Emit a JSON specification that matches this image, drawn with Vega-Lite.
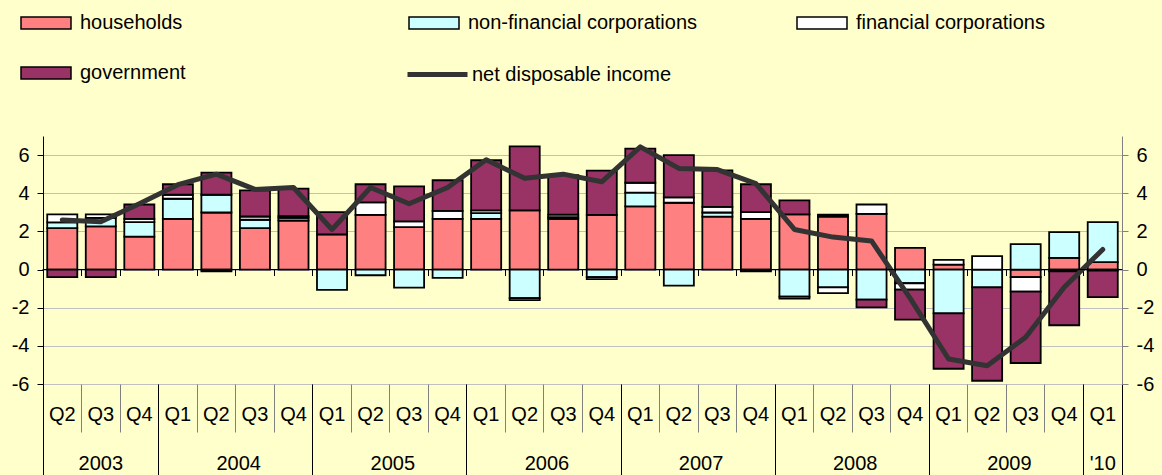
{
  "$schema": "https://vega.github.io/schema/vega-lite/v6.json",
  "autosize": "none",
  "padding": {"left": 43, "top": 136, "right": 40, "bottom": 91},
  "width": 1079,
  "height": 248,
  "background": "#FFFFCC",
  "config": {
    "view": {"stroke": null},
    "font": "Liberation Sans",
    "axis": {"labelFont": "Liberation Sans", "labelColor": "#000000", "labelFontSize": 20}
  },
  "datasets": {
    "bars": [
      {"q":"2003 Q2","s":"households","v":2.17,"o":1},{"q":"2003 Q2","s":"non-financial corporations","v":0.30,"o":2},{"q":"2003 Q2","s":"financial corporations","v":0.42,"o":3},{"q":"2003 Q2","s":"government","v":-0.40,"o":4},
      {"q":"2003 Q3","s":"households","v":2.26,"o":1},{"q":"2003 Q3","s":"non-financial corporations","v":0.45,"o":2},{"q":"2003 Q3","s":"financial corporations","v":0.18,"o":3},{"q":"2003 Q3","s":"government","v":-0.40,"o":4},
      {"q":"2003 Q4","s":"households","v":1.73,"o":1},{"q":"2003 Q4","s":"non-financial corporations","v":0.76,"o":2},{"q":"2003 Q4","s":"financial corporations","v":0.17,"o":3},{"q":"2003 Q4","s":"government","v":0.75,"o":4},
      {"q":"2004 Q1","s":"households","v":2.66,"o":1},{"q":"2004 Q1","s":"non-financial corporations","v":1.05,"o":2},{"q":"2004 Q1","s":"financial corporations","v":0.21,"o":3},{"q":"2004 Q1","s":"government","v":0.55,"o":4},
      {"q":"2004 Q2","s":"households","v":2.99,"o":1},{"q":"2004 Q2","s":"non-financial corporations","v":0.93,"o":2},{"q":"2004 Q2","s":"financial corporations","v":-0.10,"o":3},{"q":"2004 Q2","s":"government","v":1.16,"o":4},
      {"q":"2004 Q3","s":"households","v":2.17,"o":1},{"q":"2004 Q3","s":"non-financial corporations","v":0.44,"o":2},{"q":"2004 Q3","s":"financial corporations","v":0.17,"o":3},{"q":"2004 Q3","s":"government","v":1.37,"o":4},
      {"q":"2004 Q4","s":"households","v":2.57,"o":1},{"q":"2004 Q4","s":"non-financial corporations","v":0.14,"o":2},{"q":"2004 Q4","s":"financial corporations","v":0.09,"o":3},{"q":"2004 Q4","s":"government","v":1.44,"o":4},
      {"q":"2005 Q1","s":"households","v":1.84,"o":1},{"q":"2005 Q1","s":"non-financial corporations","v":-1.07,"o":2},{"q":"2005 Q1","s":"financial corporations","v":0.0,"o":3},{"q":"2005 Q1","s":"government","v":1.17,"o":4},
      {"q":"2005 Q2","s":"households","v":2.87,"o":1},{"q":"2005 Q2","s":"non-financial corporations","v":-0.30,"o":2},{"q":"2005 Q2","s":"financial corporations","v":0.65,"o":3},{"q":"2005 Q2","s":"government","v":0.95,"o":4},
      {"q":"2005 Q3","s":"households","v":2.22,"o":1},{"q":"2005 Q3","s":"non-financial corporations","v":-0.95,"o":2},{"q":"2005 Q3","s":"financial corporations","v":0.30,"o":3},{"q":"2005 Q3","s":"government","v":1.84,"o":4},
      {"q":"2005 Q4","s":"households","v":2.66,"o":1},{"q":"2005 Q4","s":"non-financial corporations","v":-0.44,"o":2},{"q":"2005 Q4","s":"financial corporations","v":0.42,"o":3},{"q":"2005 Q4","s":"government","v":1.60,"o":4},
      {"q":"2006 Q1","s":"households","v":2.66,"o":1},{"q":"2006 Q1","s":"non-financial corporations","v":0.30,"o":2},{"q":"2006 Q1","s":"financial corporations","v":0.14,"o":3},{"q":"2006 Q1","s":"government","v":2.63,"o":4},
      {"q":"2006 Q2","s":"households","v":3.10,"o":1},{"q":"2006 Q2","s":"non-financial corporations","v":-1.50,"o":2},{"q":"2006 Q2","s":"financial corporations","v":-0.10,"o":3},{"q":"2006 Q2","s":"government","v":3.36,"o":4},
      {"q":"2006 Q3","s":"households","v":2.66,"o":1},{"q":"2006 Q3","s":"non-financial corporations","v":0.08,"o":2},{"q":"2006 Q3","s":"financial corporations","v":0.14,"o":3},{"q":"2006 Q3","s":"government","v":2.07,"o":4},
      {"q":"2006 Q4","s":"households","v":2.87,"o":1},{"q":"2006 Q4","s":"non-financial corporations","v":-0.40,"o":2},{"q":"2006 Q4","s":"financial corporations","v":-0.10,"o":3},{"q":"2006 Q4","s":"government","v":2.31,"o":4},
      {"q":"2007 Q1","s":"households","v":3.31,"o":1},{"q":"2007 Q1","s":"non-financial corporations","v":0.72,"o":2},{"q":"2007 Q1","s":"financial corporations","v":0.52,"o":3},{"q":"2007 Q1","s":"government","v":1.79,"o":4},
      {"q":"2007 Q2","s":"households","v":3.50,"o":1},{"q":"2007 Q2","s":"non-financial corporations","v":-0.84,"o":2},{"q":"2007 Q2","s":"financial corporations","v":0.28,"o":3},{"q":"2007 Q2","s":"government","v":2.22,"o":4},
      {"q":"2007 Q3","s":"households","v":2.77,"o":1},{"q":"2007 Q3","s":"non-financial corporations","v":0.22,"o":2},{"q":"2007 Q3","s":"financial corporations","v":0.30,"o":3},{"q":"2007 Q3","s":"government","v":1.91,"o":4},
      {"q":"2007 Q4","s":"households","v":2.66,"o":1},{"q":"2007 Q4","s":"non-financial corporations","v":-0.10,"o":2},{"q":"2007 Q4","s":"financial corporations","v":0.35,"o":3},{"q":"2007 Q4","s":"government","v":1.46,"o":4},
      {"q":"2008 Q1","s":"households","v":2.89,"o":1},{"q":"2008 Q1","s":"non-financial corporations","v":-1.42,"o":2},{"q":"2008 Q1","s":"financial corporations","v":-0.10,"o":3},{"q":"2008 Q1","s":"government","v":0.74,"o":4},
      {"q":"2008 Q2","s":"households","v":2.78,"o":1},{"q":"2008 Q2","s":"non-financial corporations","v":-0.93,"o":2},{"q":"2008 Q2","s":"financial corporations","v":-0.31,"o":3},{"q":"2008 Q2","s":"government","v":0.10,"o":4},
      {"q":"2008 Q3","s":"households","v":2.92,"o":1},{"q":"2008 Q3","s":"non-financial corporations","v":-1.58,"o":2},{"q":"2008 Q3","s":"financial corporations","v":0.49,"o":3},{"q":"2008 Q3","s":"government","v":-0.40,"o":4},
      {"q":"2008 Q4","s":"households","v":1.14,"o":1},{"q":"2008 Q4","s":"non-financial corporations","v":-0.72,"o":2},{"q":"2008 Q4","s":"financial corporations","v":-0.33,"o":3},{"q":"2008 Q4","s":"government","v":-1.58,"o":4},
      {"q":"2009 Q1","s":"households","v":0.26,"o":1},{"q":"2009 Q1","s":"non-financial corporations","v":-2.30,"o":2},{"q":"2009 Q1","s":"financial corporations","v":0.25,"o":3},{"q":"2009 Q1","s":"government","v":-2.90,"o":4},
      {"q":"2009 Q2","s":"households","v":0.0,"o":1},{"q":"2009 Q2","s":"non-financial corporations","v":-0.93,"o":2},{"q":"2009 Q2","s":"financial corporations","v":0.70,"o":3},{"q":"2009 Q2","s":"government","v":-4.90,"o":4},
      {"q":"2009 Q3","s":"households","v":-0.40,"o":1},{"q":"2009 Q3","s":"non-financial corporations","v":1.33,"o":2},{"q":"2009 Q3","s":"financial corporations","v":-0.76,"o":3},{"q":"2009 Q3","s":"government","v":-3.74,"o":4},
      {"q":"2009 Q4","s":"households","v":0.61,"o":1},{"q":"2009 Q4","s":"non-financial corporations","v":1.35,"o":2},{"q":"2009 Q4","s":"financial corporations","v":-0.10,"o":3},{"q":"2009 Q4","s":"government","v":-2.82,"o":4},
      {"q":"2010 Q1","s":"households","v":0.39,"o":1},{"q":"2010 Q1","s":"non-financial corporations","v":2.10,"o":2},{"q":"2010 Q1","s":"financial corporations","v":-0.05,"o":3},{"q":"2010 Q1","s":"government","v":-1.40,"o":4}
    ],
    "ndi": [
      {"q":"2003 Q2","v":2.6},{"q":"2003 Q3","v":2.5},{"q":"2003 Q4","v":3.45},
      {"q":"2004 Q1","v":4.45},{"q":"2004 Q2","v":5.0},{"q":"2004 Q3","v":4.2},{"q":"2004 Q4","v":4.3},
      {"q":"2005 Q1","v":2.1},{"q":"2005 Q2","v":4.3},{"q":"2005 Q3","v":3.45},{"q":"2005 Q4","v":4.3},
      {"q":"2006 Q1","v":5.76},{"q":"2006 Q2","v":4.78},{"q":"2006 Q3","v":5.0},{"q":"2006 Q4","v":4.6},
      {"q":"2007 Q1","v":6.43},{"q":"2007 Q2","v":5.3},{"q":"2007 Q3","v":5.24},{"q":"2007 Q4","v":4.5},
      {"q":"2008 Q1","v":2.1},{"q":"2008 Q2","v":1.7},{"q":"2008 Q3","v":1.5},{"q":"2008 Q4","v":-1.5},
      {"q":"2009 Q1","v":-4.69},{"q":"2009 Q2","v":-5.04},{"q":"2009 Q3","v":-3.55},{"q":"2009 Q4","v":-0.93},
      {"q":"2010 Q1","v":1.05}
    ]
  },
  "resolve": {"axis": {"x": "independent", "y": "independent"}},
  "layer": [
    {
      "data": {"name": "ndi"},
      "mark": {"type": "tick", "color": "#000000", "thickness": 1, "size": 39, "opacity": 1},
      "encoding": {
        "x": {"field": "q", "type": "nominal", "scale": {"paddingInner": 0, "paddingOuter": 0},
          "axis": {"orient": "bottom", "offset": -114.5, "domain": false, "labels": false, "ticks": true, "tickSize": 6, "bandPosition": 0, "tickColor": "#000000", "tickWidth": 1, "title": null, "grid": false}},
        "y": {"datum": 0, "type": "quantitative", "axis": null}
      }
    },
    {
      "data": {"name": "bars"},
      "mark": {"type": "bar", "stroke": "#000000", "strokeWidth": 1.8, "width": {"band": 0.78}},
      "encoding": {
        "x": {"field": "q", "type": "nominal", "scale": {"paddingInner": 0, "paddingOuter": 0},
          "axis": {"orient": "bottom", "title": null, "domain": false, "ticks": true, "bandPosition": 0, "tickSize": 48, "tickColor": "#808080", "tickWidth": 1, "labelAngle": 0, "labelExpr": "slice(datum.label + '', 5)", "labelPadding": -28, "labelFontSize": 20, "grid": false}},
        "y": {"field": "v", "type": "quantitative", "stack": "zero",
          "scale": {"domain": [-6, 7], "nice": false, "zero": false},
          "axis": {"orient": "left", "title": null, "values": [-6, -4, -2, 0, 2, 4, 6], "labelExpr": "'' + datum.value", "grid": true, "gridColor": "#C0C0C0", "gridWidth": 1, "domainColor": "#000000", "tickColor": "#000000", "tickSize": 6, "labelPadding": 8, "labelFontSize": 20}},
        "fill": {"field": "s", "type": "nominal",
          "scale": {"domain": ["households", "non-financial corporations", "financial corporations", "government"], "range": ["#FF8080", "#CCFFFF", "#FFFFFF", "#993366"]},
          "legend": {"orient": "none", "legendX": -23, "legendY": -139, "direction": "horizontal", "columns": 3, "gridAlign": "all", "columnPadding": 96, "rowPadding": 14, "padding": 0, "title": null, "symbolType": "M-1,-0.24H1V0.24H-1Z", "symbolSize": 2500, "symbolStrokeColor": "#000000", "symbolStrokeWidth": 1.5, "symbolOpacity": 1, "labelFontSize": 20, "labelFont": "Liberation Sans", "labelColor": "#000000", "labelOffset": 8, "labelLimit": 400}},
        "order": {"field": "o", "type": "quantitative"}
      }
    },
    {
      "data": {"name": "ndi"},
      "mark": {"type": "line", "strokeWidth": 5, "strokeCap": "round", "strokeJoin": "round"},
      "encoding": {
        "x": {"field": "q", "type": "nominal", "scale": {"paddingInner": 0, "paddingOuter": 0},
          "axis": {"orient": "bottom", "title": null, "domain": false, "ticks": true, "bandPosition": 0, "labels": false,
            "values": ["2003 Q2", "2004 Q1", "2005 Q1", "2006 Q1", "2007 Q1", "2008 Q1", "2009 Q1", "2010 Q1"],
            "tickSize": 91, "tickColor": "#000000", "tickWidth": 1, "grid": false}},
        "y": {"field": "v", "type": "quantitative",
          "axis": {"orient": "right", "title": null, "values": [-6, -4, -2, 0, 2, 4, 6], "labelExpr": "'' + datum.value", "grid": false, "domainColor": "#808080", "tickColor": "#808080", "tickSize": 6, "labelPadding": 8, "labelFontSize": 20}},
        "stroke": {"datum": "net disposable income", "type": "nominal",
          "scale": {"range": ["#333333"]},
          "legend": {"orient": "none", "legendX": 362, "legendY": -94, "padding": 0, "title": null, "symbolType": "M-1,0H1", "symbolSize": 3600, "symbolStrokeWidth": 5, "labelFontSize": 20, "labelFont": "Liberation Sans", "labelColor": "#000000", "labelOffset": 2, "labelLimit": 400}}
      }
    },
    {
      "data": {"name": "ndi"},
      "mark": {"type": "tick", "color": "#000000", "thickness": 1, "size": 39, "opacity": 1},
      "encoding": {
        "x": {"field": "q", "type": "nominal", "scale": {"paddingInner": 0, "paddingOuter": 0},
          "axis": {"orient": "bottom", "title": null, "domain": false, "ticks": true, "bandPosition": 1,
            "values": ["2003 Q3", "2004 Q2", "2005 Q2", "2006 Q2", "2007 Q2", "2008 Q2", "2009 Q2", "2010 Q1"],
            "tickSize": 91, "tickWidth": 1,
            "tickColor": {"condition": {"test": "datum.value == '2010 Q1'", "value": "#000000"}, "value": "transparent"},
            "labelAngle": 0, "labelPadding": -22, "labelFontSize": 20,
            "labelAlign": {"condition": {"test": "datum.value == '2003 Q3' || datum.value == '2010 Q1'", "value": "center"}, "value": "left"},
            "labelExpr": "datum.label == '2010 Q1' ? \"'10\" : slice(datum.label + '', 0, 4)",
            "grid": false}},
        "y": {"datum": 0, "type": "quantitative", "axis": null}
      }
    }
  ]
}
